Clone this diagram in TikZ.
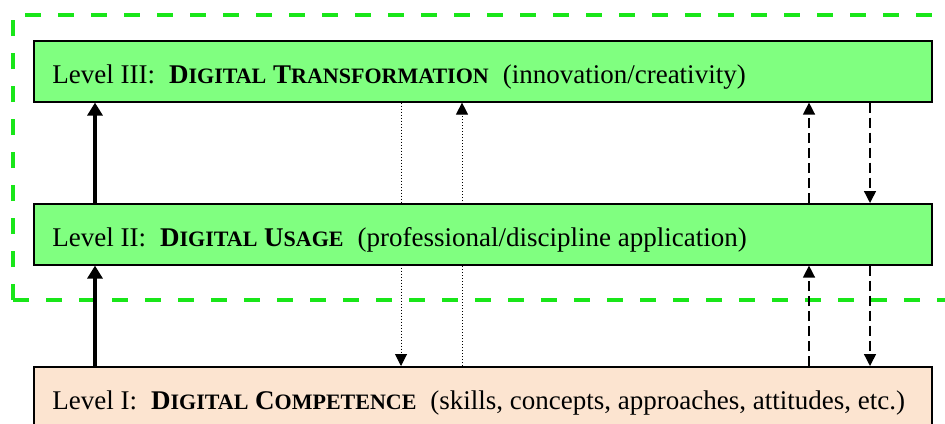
\documentclass[tikz,border=0pt]{standalone}
\usepackage{fontspec}
\setmainfont{Liberation Serif}
\usepackage{xcolor}
\usetikzlibrary{arrows.meta,backgrounds}

\definecolor{levelgreen}{RGB}{128,255,128}
\definecolor{levelpeach}{RGB}{252,228,208}
\definecolor{framegreen}{RGB}{25,230,25}

% capital + smaller capitals, for the level titles
\newcommand{\scword}[2]{#1{\fontsize{11}{13}\selectfont #2}}

\begin{document}
\begin{tikzpicture}[x=0.5pt,y=-0.5pt,
    levelbox/.style={draw=black,line width=0.8pt,minimum width=449pt,inner sep=0pt,anchor=north west},
    leveltext/.style={anchor=base west,inner sep=0pt,font=\fontsize{13.5}{16}\selectfont},
    upflow/.style={line width=2pt,-{Triangle[width=7.5pt,length=6.5pt]}},
    dotlink/.style={line width=0.5pt,dash pattern=on 0.6pt off 0.9pt,-{Triangle[width=6pt,length=6pt]}},
    dashlink/.style={line width=0.7pt,dash pattern=on 5pt off 2.5pt,-{Triangle[width=6pt,length=6pt]}}]
    \useasboundingbox (0,0) rectangle (945,423);

    \coordinate (thick) at (95,0);
    \coordinate (dotdown) at (401,0);
    \coordinate (dotup) at (462,0);
    \coordinate (dashup) at (809,0);
    \coordinate (dashdown) at (870,0);

    % the three levels
    \node[levelbox,fill=levelgreen,minimum height=30.5pt] (III) at (33,40) {};
    \node[levelbox,fill=levelgreen,minimum height=30.5pt] (II) at (33,203) {};
    \node[levelbox,fill=levelpeach,minimum height=31pt] (I) at (33,366) {};

    \node[leveltext] (tIII) at (52,83) {Level III:\hspace{7pt}\textbf{\scword{D}{IGITAL} \scword{T}{RANSFORMATION}}\hspace{7pt}(innovation/creativity)};
    \node[leveltext] (tII) at (52,246) {Level II:\hspace{7pt}\textbf{\scword{D}{IGITAL} \scword{U}{SAGE}}\hspace{7pt}(professional/discipline application)};
    \node[leveltext] (tI) at (52,409) {Level I:\hspace{7pt}\textbf{\scword{D}{IGITAL} \scword{C}{OMPETENCE}}\hspace{7pt}(skills, concepts, approaches, attitudes, etc.)};

    % dashed frame round levels II and III
    \draw[framegreen,line width=2pt,dash pattern=on 8pt off 8.5pt] (13,300) -- (13,15) -- (960,15);
    \draw[framegreen,line width=2pt,dash pattern=on 8pt off 8.5pt] (13,300) -- (960,300);

    \draw[upflow] (I.north -| thick) -- (II.south -| thick);
    \draw[upflow] (II.north -| thick) -- (III.south -| thick);

    \begin{scope}[on background layer]
        \draw[dotlink] (III.south -| dotdown) -- (I.north -| dotdown);
        \draw[dotlink] (I.north -| dotup) -- (III.south -| dotup);
    \end{scope}

    \draw[dashlink] (I.north -| dashup) -- (II.south -| dashup);
    \draw[dashlink] (II.north -| dashup) -- (III.south -| dashup);
    \draw[dashlink] (III.south -| dashdown) -- (II.north -| dashdown);
    \draw[dashlink] (II.south -| dashdown) -- (I.north -| dashdown);
\end{tikzpicture}
\end{document}
